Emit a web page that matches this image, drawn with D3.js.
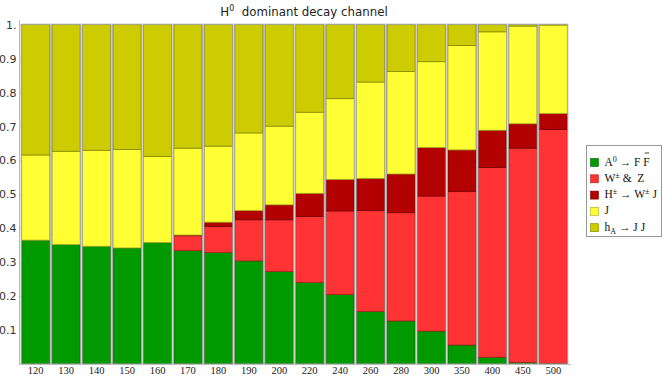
<!DOCTYPE html>
<html>
<head>
<meta charset="utf-8">
<script src="https://cdn.jsdelivr.net/npm/d3@7"></script>
<style>
body { margin: 0; background: #fff; }
</style>
</head>
<body>
<div id="container"></div>
<script>
var width = 664, height = 378;

var masses = ["120","130","140","150","160","170","180","190","200","220","240","260","280","300","350","400","450","500"];
// fractions per channel, bottom to top
var toFF   = [0.365,0.352,0.347,0.342,0.358,0.334,0.329,0.304,0.273,0.240,0.205,0.155,0.127,0.097,0.056,0.020,0.005,0.002];
var toWZ   = [0,0,0,0,0,0.044,0.076,0.121,0.152,0.195,0.246,0.297,0.319,0.398,0.452,0.559,0.631,0.689];
var toHW   = [0,0,0,0,0,0.002,0.013,0.027,0.044,0.068,0.093,0.095,0.114,0.143,0.123,0.110,0.072,0.047];
var toJ    = [0.251,0.275,0.283,0.290,0.254,0.256,0.224,0.229,0.232,0.239,0.238,0.284,0.302,0.253,0.308,0.290,0.288,0.261];
var toJJ   = [0.384,0.373,0.370,0.368,0.388,0.364,0.358,0.319,0.299,0.258,0.218,0.169,0.138,0.109,0.061,0.021,0.004,0.001];
var yTicks = [0.1,0.2,0.3,0.4,0.5,0.6,0.7,0.8,0.9,1];

var keys = ["FF","WZ","HW","J","JJ"];
var colors = ["#009900","#ff3333","#b30000","#ffff33","#cccc00"];

var table = masses.map(function(m, i){
    return {mass: m, FF: toFF[i], WZ: toWZ[i], HW: toHW[i], J: toJ[i], JJ: toJJ[i]};
});
var series = d3.stack().keys(keys)(table);

var svg = d3.select('#container').append('svg').attr('width', width).attr('height', height);

var x = d3.scaleBand().domain(masses).range([20.5, 568.5]).paddingInner(0.08).paddingOuter(0.04);
var y = d3.scaleLinear().domain([0, 1]).range([364, 24.7]);
var color = d3.scaleOrdinal().domain(keys).range(colors);

// title
var title = svg.append('text')
    .attr('x', 304).attr('y', 16)
    .attr('text-anchor', 'middle')
    .attr('font-family', 'DejaVu Sans')
    .attr('font-size', 11.8)
    .attr('fill', '#222');
title.append('tspan').text('H');
title.append('tspan').attr('dy', -5).attr('font-size', 8).text('0');
title.append('tspan').attr('dy', 5).text('\u00a0\u00a0dominant decay channel');

// bars
var layers = svg.append('g').selectAll('g')
    .data(series)
    .enter().append('g')
    .attr('fill', function(d){ return color(d.key); })
    .attr('stroke', function(d){ return d3.rgb(color(d.key)).darker(1.2); })
    .attr('stroke-width', 0.8);

layers.selectAll('rect')
    .data(function(d){ return d; })
    .enter().append('rect')
    .filter(function(d){ return d[1] - d[0] > 0; })
    .attr('x', function(d){ return x(d.data.mass); })
    .attr('y', function(d){ return y(d[1]); })
    .attr('width', x.bandwidth())
    .attr('height', function(d){ return y(d[0]) - y(d[1]); });

// bar outlines
svg.append('g').selectAll('rect')
    .data(masses)
    .enter().append('rect')
    .attr('x', function(d){ return x(d) - 0.5; })
    .attr('y', y(1) - 0.5)
    .attr('width', x.bandwidth() + 1)
    .attr('height', y(0) - y(1) + 0.5)
    .attr('fill', 'none')
    .attr('stroke', '#a8a8a8')
    .attr('stroke-width', 1);

// axes
var yAxis = svg.append('g')
    .attr('transform', 'translate(19.5,0)')
    .call(d3.axisRight(y).tickValues(yTicks).tickSize(2).tickFormat(function(d){ return d === 1 ? '1.' : d3.format('.1f')(d); }));
yAxis.select('.domain').attr('stroke', '#bbb').attr('d', 'M0,20V364.5');
yAxis.selectAll('.tick line').attr('stroke', '#bbb');
yAxis.selectAll('.tick text')
    .attr('x', -3).attr('text-anchor', 'end')
    .attr('font-family', 'DejaVu Sans').attr('font-size', 11).attr('fill', '#333');

var xAxis = svg.append('g')
    .attr('transform', 'translate(0,364.5)')
    .call(d3.axisBottom(x).tickSize(0));
xAxis.select('.domain').attr('stroke', '#bbb').attr('d', 'M19,0H571');
xAxis.selectAll('.tick text')
    .attr('y', 9.5).attr('dy', null)
    .attr('font-family', 'Liberation Serif').attr('font-size', 10.5).attr('fill', '#222');

// legend
var legend = svg.append('g').attr('transform', 'translate(586.5,145.5)');
legend.append('rect').attr('width', 75).attr('height', 91)
    .attr('fill', '#fff').attr('stroke', '#999').attr('stroke-width', 1);

var legendLabels = [
    [['A',0],['0',-1],['\u00a0\u2192 F\u00a0F',0]],
    [['W',0],['\u00b1',-1],['\u00a0&\u00a0\u00a0Z',0]],
    [['H',0],['\u00b1',-1],['\u00a0\u2192 W',0],['\u00b1',-1],['\u00a0J',0]],
    [['J',0]],
    [['h',0],['A',1],['\u00a0\u2192 J J',0]]
];

var items = legend.selectAll('g.item')
    .data(keys)
    .enter().append('g')
    .attr('class', 'item')
    .attr('transform', function(d, i){ return 'translate(4,' + (16 + i * 16.3) + ')'; });

items.append('rect')
    .attr('x', 0).attr('y', -3).attr('width', 8).attr('height', 8)
    .attr('fill', function(d){ return color(d); })
    .attr('stroke', function(d){ return d3.rgb(color(d)).darker(1.2); })
    .attr('stroke-width', 0.6);

items.append('text')
    .attr('x', 14).attr('y', 4)
    .attr('font-family', 'Liberation Serif').attr('font-size', 11.5).attr('fill', '#111')
    .each(function(d, i){
        var t = d3.select(this), shift = 0;
        legendLabels[i].forEach(function(p){
            var want = p[1] === -1 ? -4 : (p[1] === 1 ? 3 : 0);
            t.append('tspan')
                .attr('dy', want - shift)
                .attr('font-size', p[1] === 0 ? 11.5 : 8)
                .text(p[0]);
            shift = want;
        });
    });

// overbar on anti-F, placed over the last glyph of the first label
var firstText = items.filter(function(d, i){ return i === 0; }).select('text').node();
var bb = firstText.getBBox();
var n = firstText.getNumberOfChars();
var lastF = firstText.getExtentOfChar(n - 1);
items.filter(function(d, i){ return i === 0; }).append('line')
    .attr('x1', lastF.x + 1.5).attr('x2', lastF.x + lastF.width - 0.5)
    .attr('y1', bb.y - 1.5).attr('y2', bb.y - 1.5)
    .attr('stroke', '#111').attr('stroke-width', 0.8);
</script>
</body>
</html>
